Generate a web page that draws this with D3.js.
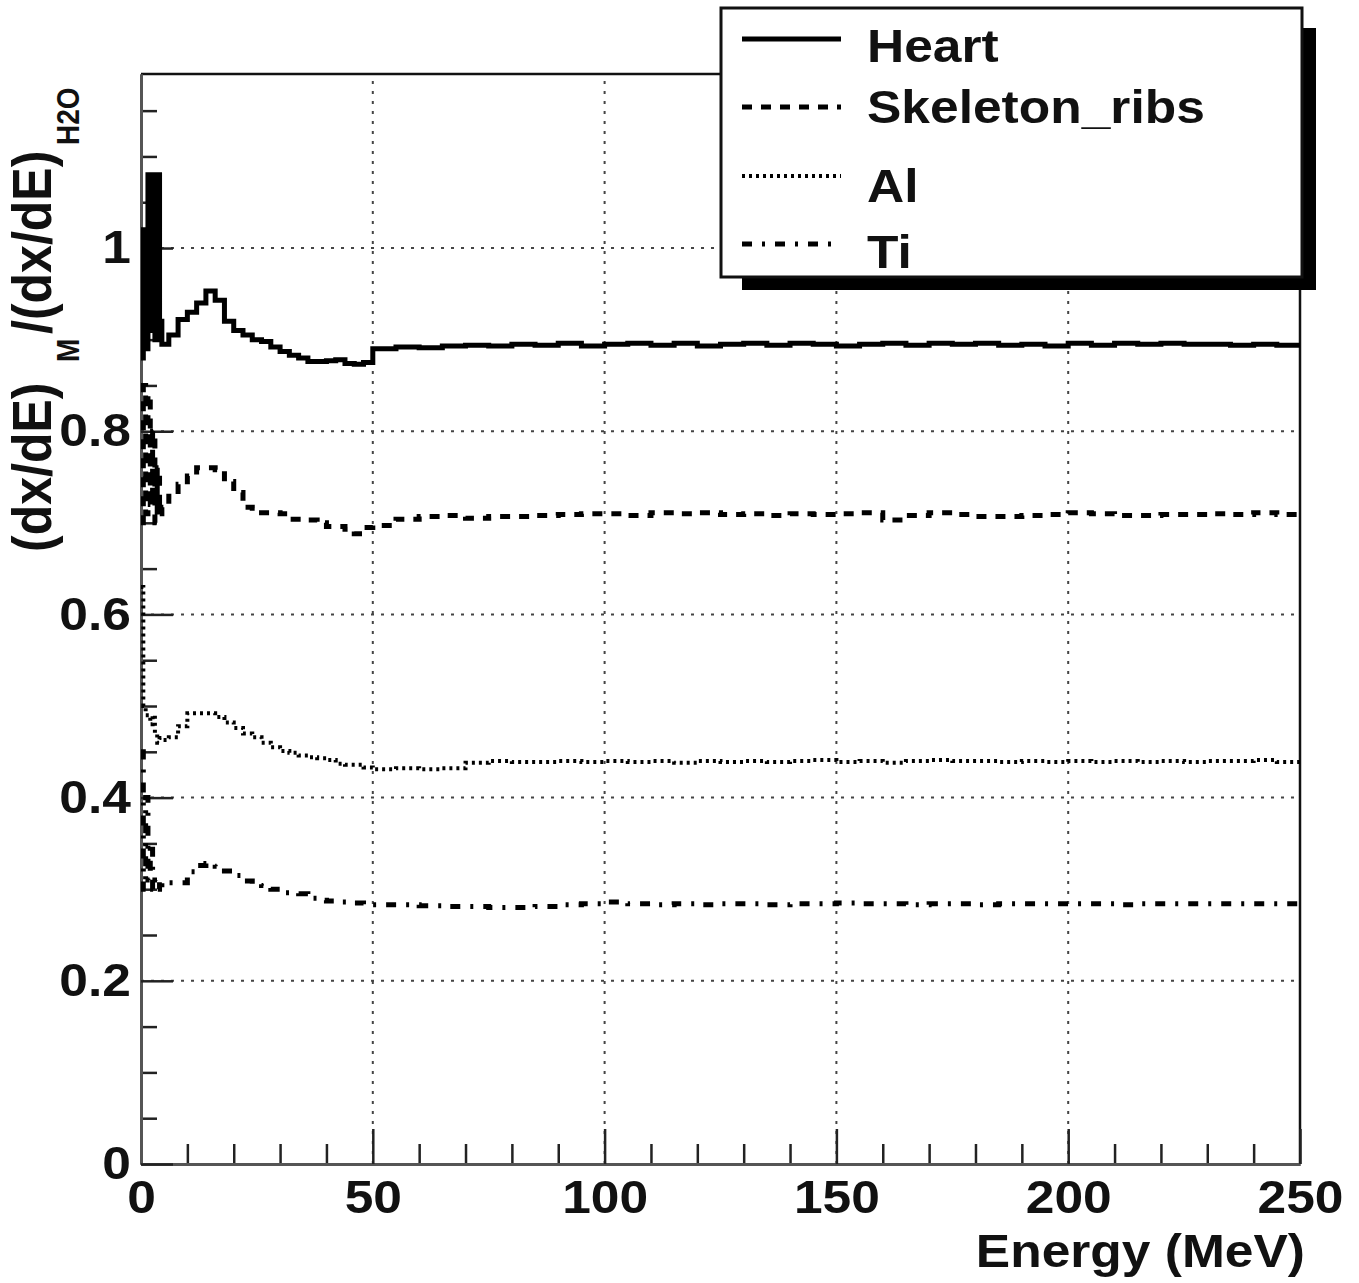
<!DOCTYPE html>
<html><head><meta charset="utf-8">
<script src="https://cdn.jsdelivr.net/npm/d3@7"></script>
<style>body{margin:0;background:#fff} svg{display:block}</style>
</head><body><svg id="c" width="1359" height="1283"></svg>
<script>
// ---------- data ----------
const energy = [0,0.5,1,1.5,2,2.5,3,3.5,4,
  4.5,6,8,10,12,14,16,18,20,22,24,26,28,30,32,34,36,38,40,42,44,46,48,
  50,55,60,65,70,75,80,85,90,95,100,105,110,115,120,125,130,135,140,145,150,
  155,160,165,170,175,180,185,190,195,200,205,210,215,220,225,230,235,240,245,250];

const heart = [0.88,1.02,0.89,1.08,0.91,1.08,0.90,1.08,0.92,
  0.895,0.905,0.922,0.930,0.940,0.953,0.943,0.920,0.910,0.905,0.900,0.898,0.892,0.887,0.883,0.880,0.876,0.876,0.877,0.878,0.874,0.873,0.875,
  0.890,0.892,0.891,0.893,0.894,0.893,0.895,0.894,0.896,0.893,0.895,0.896,0.894,0.896,0.893,0.895,0.896,0.894,0.896,0.895,0.893,
  0.895,0.896,0.894,0.896,0.895,0.896,0.894,0.895,0.893,0.896,0.894,0.896,0.895,0.896,0.895,0.895,0.894,0.895,0.894,0.894];

const skeleton = [0.70,0.85,0.71,0.84,0.72,0.80,0.70,0.76,0.71,
  0.717,0.729,0.742,0.751,0.760,0.760,0.758,0.745,0.733,0.717,0.716,0.711,0.711,0.710,0.704,0.704,0.703,0.700,0.696,0.696,0.693,0.688,0.695,
  0.697,0.704,0.707,0.708,0.705,0.707,0.707,0.708,0.709,0.710,0.710,0.708,0.711,0.710,0.711,0.709,0.710,0.708,0.710,0.709,0.710,
  0.711,0.703,0.708,0.711,0.709,0.707,0.707,0.708,0.709,0.711,0.710,0.708,0.708,0.709,0.709,0.710,0.709,0.711,0.709,0.703];

const al = [0.63,0.50,0.49,0.49,0.48,0.49,0.47,0.46,0.465,
  0.463,0.466,0.478,0.492,0.492,0.492,0.488,0.482,0.476,0.470,0.466,0.460,0.455,0.451,0.449,0.446,0.444,0.443,0.441,0.437,0.436,0.436,0.433,
  0.431,0.432,0.431,0.432,0.438,0.440,0.439,0.439,0.440,0.439,0.440,0.439,0.440,0.438,0.440,0.439,0.440,0.439,0.440,0.441,0.439,
  0.440,0.438,0.440,0.441,0.440,0.440,0.439,0.440,0.439,0.440,0.439,0.440,0.439,0.440,0.439,0.440,0.440,0.441,0.439,0.435];

const ti = [0.45,0.30,0.40,0.31,0.35,0.30,0.31,0.30,0.305,
  0.308,0.307,0.307,0.319,0.326,0.328,0.325,0.320,0.315,0.309,0.306,0.304,0.300,0.296,0.296,0.295,0.290,0.288,0.287,0.286,0.286,0.285,0.283,
  0.283,0.283,0.282,0.281,0.281,0.280,0.280,0.281,0.283,0.284,0.286,0.284,0.283,0.284,0.283,0.284,0.284,0.283,0.284,0.284,0.285,
  0.284,0.284,0.283,0.284,0.284,0.283,0.284,0.284,0.284,0.284,0.284,0.283,0.284,0.284,0.284,0.284,0.284,0.284,0.284,0.284];

const seriesNames = ["Heart","Skeleton_ribs","Al","Ti"];
const xMajorTicks = [0,50,100,150,200,250];
const xMinorTicks = [10,20,30,40,60,70,80,90,110,120,130,140,160,170,180,190,210,220,230,240];
const yMajorTicks = [0,0.2,0.4,0.6,0.8,1];
const yMinorTicks = [0.05,0.1,0.15,0.25,0.3,0.35,0.45,0.5,0.55,0.65,0.7,0.75,0.85,0.9,0.95,1.05,1.1,1.15];
const yTickLabels = ["0","0.2","0.4","0.6","0.8","1"];
const xTitle = "Energy (MeV)";

// ---------- layout ----------
const L=141, R=1300, T=74, B=1164;
const SX = 1.12;
const FONT = "'Liberation Sans', Arial, Helvetica, sans-serif";
const x = d3.scaleLinear().domain([0,250]).range([L,R]);
const y = d3.scaleLinear().domain([0,1.19]).range([B,T]);
const svg = d3.select("#c");
svg.append("rect").attr("width",1359).attr("height",1283).attr("fill","#fff");

// grid
const grid = svg.append("g").attr("stroke","#444").attr("stroke-width",2).attr("stroke-dasharray","3,7");
grid.selectAll("line.v").data([50,100,150,200]).join("line").attr("class","v")
  .attr("x1",d=>x(d)).attr("x2",d=>x(d)).attr("y1",B).attr("y2",T);
grid.selectAll("line.h").data([0.2,0.4,0.6,0.8,1]).join("line").attr("class","h")
  .attr("x1",L).attr("x2",R).attr("y1",d=>y(d)).attr("y2",d=>y(d));

// frame top/right
svg.append("path").attr("d",`M${L},${T}H${R}V${B}`).attr("fill","none").attr("stroke","#111").attr("stroke-width",2.5);

// axes
function styleAxis(g){
  g.selectAll(".domain").attr("stroke","#555").attr("stroke-width",3);
  g.selectAll(".tick line").attr("stroke","#222").attr("stroke-width",2.5);
  g.selectAll("text").attr("fill","#111").attr("font-family",FONT).attr("font-weight","bold").attr("font-size",46);
}
const xMinor = svg.append("g").attr("transform",`translate(0,${B})`)
  .call(d3.axisBottom(x).tickValues(xMinorTicks).tickSize(-20).tickSizeOuter(0).tickFormat(""));
styleAxis(xMinor);
const xAx = svg.append("g").attr("transform",`translate(0,${B})`)
  .call(d3.axisBottom(x).tickValues(xMajorTicks).tickSize(-35).tickSizeOuter(0).tickPadding(16).tickFormat(d3.format("d")));
styleAxis(xAx);
xAx.selectAll("text").attr("transform",`scale(${SX},1)`);

const yMinor = svg.append("g").attr("transform",`translate(${L},0)`)
  .call(d3.axisLeft(y).tickValues(yMinorTicks).tickSize(-16).tickSizeOuter(0).tickFormat(""));
styleAxis(yMinor);
const yAx = svg.append("g").attr("transform",`translate(${L},0)`)
  .call(d3.axisLeft(y).tickValues(yMajorTicks).tickSize(-32).tickSizeOuter(0).tickPadding(9)
    .tickFormat((d,i)=>yTickLabels[i]));
styleAxis(yAx);
yAx.selectAll("text").attr("transform",`scale(${SX},1)`);

// series
const styles = [
  {data:heart,    dash:null,          w:5},
  {data:skeleton, dash:"10,9",        w:5},
  {data:al,       dash:"3,4",         w:4},
  {data:ti,       dash:"10,10,3,10",  w:5}
];
const line = d3.line().x(d=>x(d[0])).y(d=>y(d[1])).curve(d3.curveStepAfter);
svg.append("defs").append("clipPath").attr("id","clip").append("rect")
  .attr("x",L).attr("y",T).attr("width",R-L).attr("height",B-T);
const plot = svg.append("g").attr("clip-path","url(#clip)");
styles.forEach(s=>{
  const pts = energy.map((e,i)=>[e,s.data[i]]);
  plot.append("path").attr("d",line(pts)).attr("fill","none").attr("stroke","#000")
    .attr("stroke-width",s.w).attr("stroke-dasharray",s.dash).attr("stroke-linejoin","miter");
});

// legend
svg.append("rect").attr("x",742).attr("y",28).attr("width",574).attr("height",262).attr("fill","#000");
svg.append("rect").attr("x",721).attr("y",8).attr("width",581).attr("height",269)
  .attr("fill","#fff").attr("stroke","#111").attr("stroke-width",3);
const legY = [39,107,176,244];
const legTextY = [62,123,202,268];
seriesNames.forEach((n,i)=>{
  svg.append("line").attr("x1",742).attr("x2",841).attr("y1",legY[i]).attr("y2",legY[i])
    .attr("stroke","#000").attr("stroke-width",styles[i].w).attr("stroke-dasharray",styles[i].dash);
  svg.append("text").attr("transform",`translate(867,${legTextY[i]}) scale(${SX},1)`)
    .attr("font-family",FONT).attr("font-weight","bold").attr("font-size",46).attr("fill","#111").text(n);
});

// x title
svg.append("text").attr("transform",`translate(1305,1267) scale(${SX},1)`).attr("text-anchor","end")
  .attr("font-family",FONT).attr("font-weight","bold").attr("font-size",46).attr("fill","#111").text(xTitle);

// y title (rotated, with subscripts)
const yt = svg.append("g").attr("transform",`scale(${SX},1)`)
  .append("g").attr("transform",`translate(${51/SX},0) rotate(-90)`)
  .attr("font-family",FONT).attr("font-weight","bold").attr("fill","#111");
yt.append("text").attr("x",-552).attr("y",0).attr("font-size",50).text("(dx/dE)");
yt.append("text").attr("x",-362).attr("y",25).attr("font-size",28).text("M");
yt.append("text").attr("x",-334).attr("y",0).attr("font-size",50).text("/(dx/dE)");
yt.append("text").attr("x",-145).attr("y",25).attr("font-size",28).text("H2O");
</script></body></html>
